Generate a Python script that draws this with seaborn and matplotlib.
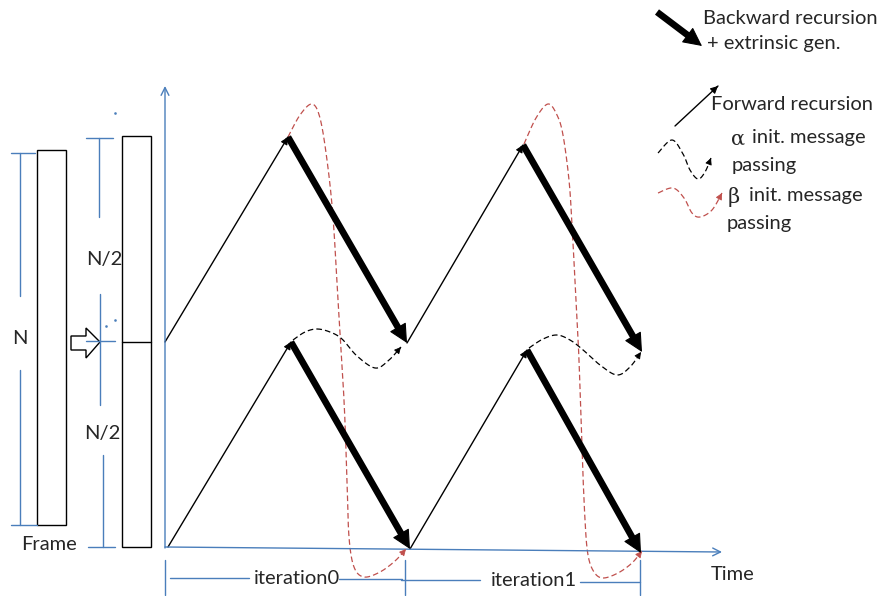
import numpy as np
import pandas as pd
import matplotlib
matplotlib.use("Agg")
import matplotlib.pyplot as plt
from matplotlib.patches import Polygon, Rectangle
import seaborn as sns

# ---------------- data (diagram coordinates, pixel space, y downward) -------------
# sawtooth vertices: lower half (second N/2) and upper half (first N/2)
lower_t = [168, 291, 410, 527, 641]
lower_y = [547, 342, 549, 350, 553]
upper_t = [165, 288, 407, 523, 642]
upper_y = [342, 137, 343, 145, 352]

# iteration boundaries on the time axis
iter_bounds = [165, 405, 640]
iter_labels = ["iteration0", "iteration1"]

# alpha init message passing curves (waypoints)
alpha1 = [(293, 340), (305, 332), (317, 329), (330, 332), (342, 339), (357, 356), (375, 368), (388, 361), (401, 347)]
alpha2 = [(529, 348), (543, 339), (557, 335), (570, 340), (582, 349), (600, 365), (617, 375), (630, 367), (641, 352)]
# beta init message passing curves (waypoints)
beta1 = [(288, 137), (300, 115), (312, 104), (320, 118), (327, 160), (333, 217), (338, 300), (344, 400), (347, 480),
         (349, 537), (354, 567), (364, 577), (380, 572), (395, 561), (406, 549)]
beta2 = [(524, 144), (536, 118), (548, 104), (557, 115), (563, 135), (569, 180), (572, 225), (576, 300), (579, 360),
         (582, 450), (585, 520), (588, 555), (594, 572), (603, 578), (618, 573), (632, 563), (642, 551)]

# legend samples
leg_alpha = [(658, 153), (672, 140), (683, 154), (690, 170), (698, 179), (705, 172), (711, 158)]
leg_beta = [(658, 193), (673, 188), (684, 198), (692, 213), (700, 217), (712, 210), (722, 193)]

BLUE = "#4a7ebb"
RED = "#c0504d"
FONT = "Lato"
FS = 14.5


def smooth(pts, n=16):
    pts = np.asarray(pts, float)
    P = np.vstack([pts[0], pts, pts[-1]])
    out = []
    t = np.linspace(0, 1, n, endpoint=False)[:, None]
    for i in range(1, len(P) - 2):
        p0, p1, p2, p3 = P[i - 1], P[i], P[i + 1], P[i + 2]
        out.append(0.5 * ((2 * p1) + (-p0 + p2) * t + (2 * p0 - 5 * p1 + 4 * p2 - p3) * t ** 2
                          + (-p0 + 3 * p1 - 3 * p2 + p3) * t ** 3))
    out.append(P[-2][None])
    return np.vstack(out)


sns.set_theme(style="white")
plt.rcParams["font.family"] = [FONT, "DejaVu Sans"]

fig = plt.figure(figsize=(8.85, 5.96), dpi=100)
ax = fig.add_axes([0, 0, 1, 1])
ax.set_xlim(0, 885)
ax.set_ylim(596, 0)
ax.axis("off")


def head(p_from, p_to, color, scale, lw=0.8):
    ax.annotate("", xy=p_to, xytext=p_from,
                arrowprops=dict(arrowstyle="-|>", color=color, lw=lw, mutation_scale=scale,
                                shrinkA=0, shrinkB=0))


def fwd(a, b):
    ax.plot([a[0], b[0]], [a[1], b[1]], color="black", lw=1.0)
    d = np.array(b) - np.array(a)
    d = d / np.hypot(*d)
    head(tuple(np.array(b) - d * 6), b, "black", 11, 0.8)


def bwd(a, b):
    d = np.array(b, float) - np.array(a, float)
    d = d / np.hypot(*d)
    end = np.array(b) - d * 14
    ax.plot([a[0], end[0]], [a[1], end[1]], color="black", lw=4.8, solid_capstyle="butt")
    head(tuple(np.array(b) - d * 18), b, "black", 30, 0.8)


def dashed(pts, color):
    c = smooth(pts)
    df = pd.DataFrame({"x": c[:, 0], "y": c[:, 1]})
    sns.lineplot(data=df, x="x", y="y", sort=False, estimator=None, ax=ax, color=color, lw=0.9,
                 linestyle=(0, (4.5, 2.5)))
    head(tuple(c[-4]), tuple(c[-1]), color, 10, 0.6)


# ---------------- axes ----------------
ax.annotate("", xy=(165, 86), xytext=(165, 548),
            arrowprops=dict(arrowstyle="->", color=BLUE, lw=1.0, shrinkA=0, shrinkB=0, mutation_scale=14))
ax.annotate("", xy=(722, 552), xytext=(165, 547),
            arrowprops=dict(arrowstyle="->", color=BLUE, lw=1.0, shrinkA=0, shrinkB=0, mutation_scale=14))
ax.text(733, 574, "Time", fontsize=FS, ha="center", va="center")

# ---------------- frame blocks ----------------
ax.add_patch(Rectangle((37, 150), 29, 375, fill=False, ec="black", lw=1.0))
ax.add_patch(Rectangle((122, 136), 29, 411, fill=False, ec="black", lw=1.0))
ax.plot([122, 151], [342, 342], color="black", lw=1.0)
ax.add_patch(Polygon([(71, 336), (86, 336), (86, 328), (100, 342), (86, 358), (86, 350), (71, 350)],
                     closed=True, fc="white", ec="black", lw=1.0))

# N dimension
ax.plot([11, 35], [153, 153], color=BLUE, lw=1.0)
ax.plot([20, 20], [153, 296], color=BLUE, lw=1.0)
ax.plot([20, 20], [370, 525], color=BLUE, lw=1.0)
ax.plot([11, 37], [525, 525], color=BLUE, lw=1.0)
ax.text(20, 338, "N", fontsize=FS, ha="center", va="center")
# N/2 dimensions
ax.plot([86, 113], [138, 138], color=BLUE, lw=1.0)
ax.plot([99, 99], [138, 217], color=BLUE, lw=1.0)
ax.plot([100, 100], [294, 405], color=BLUE, lw=1.0)
ax.plot([86, 115], [341, 341], color=BLUE, lw=1.0)
ax.plot([103, 103], [455, 547], color=BLUE, lw=1.0)
ax.plot([88, 115], [547, 547], color=BLUE, lw=1.0)
ax.text(104, 260, "N/2", fontsize=FS, ha="center", va="center")
ax.text(102, 433, "N/2", fontsize=FS, ha="center", va="center")
ax.text(49, 545, "Frame", fontsize=FS, ha="center", va="center")
ax.plot([115, 106, 115], [113, 326, 320], ls="none", marker="s", ms=0.8, color=BLUE)

# ---------------- iteration dimension lines ----------------
for xb in iter_bounds:
    ax.plot([xb, xb], [560, 595], color=BLUE, lw=1.0)
ax.plot([170, 249], [578, 578], color=BLUE, lw=1.0)
ax.plot([339, 402], [579, 579], color=BLUE, lw=1.0)
ax.plot([401, 480], [580, 580], color=BLUE, lw=1.0)
ax.plot([580, 640], [582, 582], color=BLUE, lw=1.0)
ax.text((iter_bounds[0] + iter_bounds[1]) / 2 + 12, 578, iter_labels[0], fontsize=FS, ha="center", va="center")
ax.text((iter_bounds[1] + iter_bounds[2]) / 2 + 11, 581, iter_labels[1], fontsize=FS, ha="center", va="center")

# ---------------- curves ----------------
for c in (beta1, beta2):
    dashed(c, RED)
for c in (alpha1, alpha2):
    dashed(c, "black")

# ---------------- sawtooth recursions ----------------
for ts, ys in ((lower_t, lower_y), (upper_t, upper_y)):
    pts = list(zip(ts, ys))
    for i in range(len(pts) - 1):
        if i % 2 == 0:
            fwd(pts[i], pts[i + 1])
        else:
            bwd(pts[i], pts[i + 1])

# ---------------- legend ----------------
bwd((657, 12), (702, 46))
ax.text(703, 18, "Backward recursion", fontsize=FS, ha="left", va="center")
ax.text(707, 44, "+ extrinsic gen.", fontsize=FS, ha="left", va="center")
fwd((675, 126), (718, 86))
ax.text(711, 105, "Forward recursion", fontsize=FS, ha="left", va="center")
dashed(leg_alpha, "black")
ax.text(731, 139, "α", fontsize=15, ha="left", va="center", family=["DejaVu Serif"])
ax.text(752, 138, "init. message", fontsize=FS, ha="left", va="center")
ax.text(732, 165, "passing", fontsize=FS, ha="left", va="center")
dashed(leg_beta, RED)
ax.text(728, 197, "β", fontsize=15, ha="left", va="center", family=["DejaVu Serif"])
ax.text(749, 196, "init. message", fontsize=FS, ha="left", va="center")
ax.text(727, 223, "passing", fontsize=FS, ha="left", va="center")

fig.savefig("out.png", dpi=100)
